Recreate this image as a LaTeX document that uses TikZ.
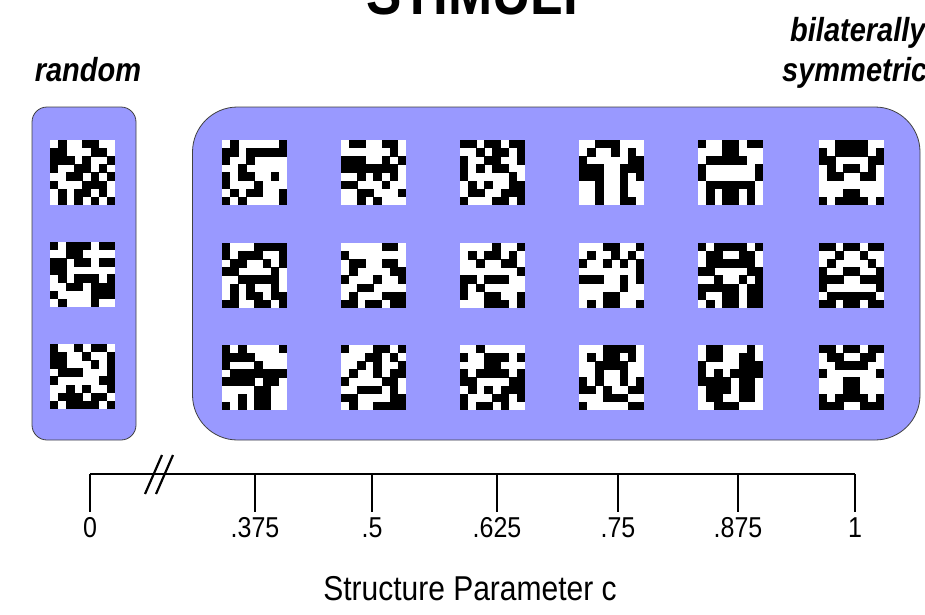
\documentclass[tikz,border=0pt]{standalone}
\usepackage{fontspec}
\setmainfont{Liberation Sans}
\usepackage{graphicx}

% one pixel grid cell, in picture units
\def\cellw{8.1}
\newcount\bitcol
% scan a string of 0/1 digits and fill one black cell per 1
\def\pixscan#1{%
  \ifx#1\relax\else
    \if1#1\fill[black] ({\rowx+\the\bitcol*\cellw},-\rowy) rectangle ++(\cellw+0.3,-\cellw-0.3);\fi
    \advance\bitcol by 1
    \expandafter\pixscan
  \fi}
% 8x8 binary stimulus: top-left x, top-left y, eight rows of bits
\newcommand\stimgrid[3]{%
  \fill[white] (#1,-#2) rectangle ++(8*\cellw,-8*\cellw);
  \def\rowx{#1}%
  \foreach \bits [count=\r from 0] in {#3}{%
    \pgfmathsetmacro\rowy{#2+\r*\cellw}%
    \bitcol=0
    \expandafter\pixscan\bits\relax}}
\newcommand\tall[1]{\scalebox{1}[1.15]{#1}}

\begin{document}
\begin{tikzpicture}[x=1pt,y=1pt,
  groupbox/.style={fill=groupfill,draw=black!75,line width=0.8pt},
  axisline/.style={line width=2pt,black},
  ticklabel/.style={anchor=base,inner sep=0pt,font=\fontsize{25}{30}\selectfont},
  caption/.style={inner sep=0pt,font=\fontsize{29}{34}\selectfont\bfseries\itshape}]
\definecolor{groupfill}{RGB}{153,153,255}
\useasboundingbox (0,0) rectangle (925,-614);
\clip (0,0) rectangle (925,-614);

% headings
\node[anchor=base,inner sep=0pt,font=\fontsize{53}{60}\selectfont\bfseries] (title) at (472,-14) {\tall{STIMULI}};
\node[caption,anchor=base] (rnd) at (88,-81) {\tall{random}};
\node[caption,anchor=base west] (bil) at (790,-41) {\tall{bilaterally}};
\node[caption,anchor=base west] (sym) at (782,-81) {\tall{symmetric}};

% grouping boxes
\draw[groupbox,rounded corners=15pt] (32,-107) rectangle (136,-440);
\draw[groupbox,rounded corners=45pt] (192.5,-107) rectangle (920,-440);

% random stimuli
\stimgrid{50}{140}{01001100,11000110,11101001,10011010,00110101,10001110,01011010,01010101}
\stimgrid{50}{242}{10111011,00110000,11011011,11000000,01011101,00110111,10000111,01000100}
\stimgrid{50}{344}{10010110,11001001,11000101,01110001,10000011,00101001,01110110,10111101}

% structured stimuli, first row
\stimgrid{222}{140}{01000001,11011111,10010000,00100000,10110010,10001000,01011001,10100001}
\stimgrid{341}{140}{01100110,00000010,11100101,11111110,00101010,11000100,00110001,00101000}
\stimgrid{460}{140}{11011011,00101101,10011001,10101100,10000010,01010011,01100111,10001101}
\stimgrid{579}{140}{00111000,01001010,10000011,11100111,11100101,00100100,00100100,00100110}
\stimgrid{698}{140}{10011011,00011000,01111100,10000001,10000001,01111110,01011010,01011010}
\stimgrid{819}{140}{00111100,10111101,11000011,01011010,01100110,00000000,00011000,10111101}

% second row
\stimgrid{222}{243}{10001111,10111001,01100101,11000010,00111110,01010010,01011011,11001101}
\stimgrid{341}{243}{00000110,10000000,01100110,01000011,10001001,00110000,01000111,11011011}
\stimgrid{460}{243}{00001001,01011010,00100110,00000001,11011100,10100000,10011001,00011101}
\stimgrid{579}{243}{00011001,01001010,10010101,00000001,11100101,00000100,00011000,01011001}
\stimgrid{698}{243}{10111101,01100110,01111110,11000011,00100101,11111011,10011011,01011011}
\stimgrid{819}{243}{11011011,00100100,01000010,10011001,11100111,10000001,01111110,11011011}

% third row
\stimgrid{222}{345}{10100001,11110000,10001000,01111111,11110110,00001100,00101100,10101100}
\stimgrid{341}{345}{10001101,00011010,00101001,01001011,10000110,00111010,11000011,01001111}
\stimgrid{460}{345}{00100000,10011101,00011000,10111101,11000011,01010111,10001101,10110100}
\stimgrid{579}{345}{00011110,01011010,00111100,00100100,10100101,11010011,00011100,10000011}
\stimgrid{698}{345}{01100010,01100110,10000111,10101111,11110110,01110110,01100110,00111000}
\stimgrid{819}{345}{11011011,01100110,00111100,10000001,00011000,00011000,10111101,11100111}

% axis of the structure parameter
\coordinate (axL) at (90,-474);
\coordinate (axR) at (855,-474);
\draw[axisline] (axL) -- (axR);
\foreach \x/\lab/\nm in {90/0/t0,255/.375/t1,372/.5/t2,497/.625/t3,618/.75/t4,738/.875/t5,855/1/t6}{
  \coordinate (\nm top) at (\x,-474);
  \coordinate (\nm bot) at (\x,-512);
  \draw[axisline] (\nm top) -- (\nm bot);
  \node[ticklabel] (\nm) at (\x,-537) {\tall{\lab}};
}
% axis break
\coordinate (b1s) at (145,-494); \coordinate (b1e) at (162,-455);
\coordinate (b2s) at (156,-494); \coordinate (b2e) at (173,-455);
\draw[line width=2.2pt] (b1s) -- (b1e);
\draw[line width=2.2pt] (b2s) -- (b2e);

\node[anchor=base,inner sep=0pt,font=\fontsize{30}{36}\selectfont] (axtitle) at (470,-600) {\tall{Structure Parameter c}};
\end{tikzpicture}
\end{document}
